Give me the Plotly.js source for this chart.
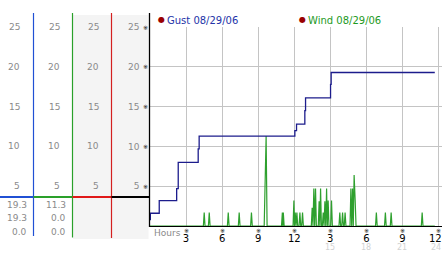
<!DOCTYPE html>
<html><head><meta charset="utf-8">
<script src="https://cdn.plot.ly/plotly-3.0.1.min.js"></script>
<style>html,body{margin:0;padding:0;background:#fff;}#chart{width:442px;height:253px;}</style>
</head><body><div id="chart"></div>
<script>
// ---- data ----
const gustHours = [0, 0.03, 0.77, 2.22, 2.35, 4.01, 4.09, 12.05, 12.19, 12.88, 12.94, 15.02, 15.07, 23.69];
const gustMph   = [0.8, 1.6, 3.2, 4.7, 8.0, 9.7, 11.3, 12.0, 12.8, 14.5, 16.1, 17.8, 19.3, 19.3];

const windHours = [0,
  4.44,4.51,4.58, 4.86,4.93,5.00, 6.44,6.51,6.58, 7.35,7.42,7.49, 8.37,8.44,8.51,
  9.50,9.58,9.66,9.74,
  10.94,11.01,11.05,11.09,11.16,
  11.90,11.97,12.02,12.08,12.15,12.22,12.29, 12.40,12.47,12.54, 12.62,12.69,12.76,
  13.42,13.49,13.56,13.63,13.70,13.77,13.84,
  14.00,14.07,14.13,14.19,14.26,
  14.34,14.41,14.48,14.55,14.62,14.69,14.75,14.82,14.89,
  15.03,15.10,15.17, 15.72,15.79,15.86, 15.95,16.02,16.09, 16.16,16.23,16.30,
  16.64,16.71,16.78,16.85,16.91,16.98,17.07,17.14,
  18.76,18.83,18.90, 19.51,19.58,19.65, 19.99,20.06,20.13, 22.57,22.64,22.71,
  23.69];
const windMph = [0,
  0,1.7,0, 0,1.7,0, 0,1.7,0, 0,1.7,0, 0,1.7,0,
  0,6.4,11.3,0,
  0,1.7,0,1.7,0,
  0,3.2,0,1.7,0,1.7,0, 0,1.7,0, 0,1.7,0,
  0,2.3,0,4.7,0,4.7,0,
  0,3.1,0,4.7,0,
  0,1.7,0,3.1,0,4.7,0,3.2,0,
  0,3.2,0, 0,1.7,0, 0,1.7,0, 0,1.7,0,
  0,4.7,0,4.7,0,6.4,3.1,0,
  0,1.7,0, 0,1.7,0, 0,1.7,0, 0,1.7,0,
  0];

const yTickVals = [5, 10, 15, 20, 25];
const yTickText = ['5', '10', '15', '20', '25'];
const xTickVals = [3, 6, 9, 12, 15, 18, 21, 24];
const xTickText = ['3', '6', '9', '12', '3', '6', '9', '12'];
const xTickText24 = ['', '', '', '', '15', '18', '21', '24'];
const gustStats = ['19.3', '19.3', '0.0'];
const windStats = ['11.3', '0.0', '0.0'];
const seriesLabels = ['Gust 08/29/06', 'Wind 08/29/06'];

// ---- layout helpers (pixel -> paper) ----
const W = 442, H = 253, TOP = 27, BOT = 226;
const px = p => p / W;
const py = p => (BOT - p) / (BOT - TOP);
const FONT = 'DejaVu Sans, Verdana, sans-serif';
const GREY = '#8a8a8a';

const traces = [
  {x: windHours, y: windMph, type: 'scatter', mode: 'lines',
   line: {color: '#2ea02e', width: 1.2}, hoverinfo: 'skip'},
  {x: gustHours, y: gustMph, type: 'scatter', mode: 'lines',
   line: {color: '#1c1c8c', width: 1.3, shape: 'hv'}, hoverinfo: 'skip'}
];

const shapes = [];
const vline = (x, y0, y1, color, w) => shapes.push({type: 'line', xref: 'paper', yref: 'paper',
  x0: px(x), x1: px(x), y0: py(y0), y1: py(y1), line: {color: color, width: w}});
const hline = (x0, x1, y, color, w) => shapes.push({type: 'line', xref: 'paper', yref: 'paper',
  x0: px(x0), x1: px(x1), y0: py(y), y1: py(y), line: {color: color, width: w}});
shapes.push({type: 'rect', xref: 'paper', yref: 'paper', layer: 'below',
  x0: px(73), x1: px(148.5), y0: py(239), y1: py(15), fillcolor: '#f4f4f4', line: {width: 0}});
vline(33.5, 13, 236, '#2050d4', 1.2);
vline(72.5, 13, 237.5, '#2aa02a', 1.2);
vline(111.5, 13, 238, '#d42020', 1.2);
vline(149.5, 13, 227, '#000000', 1.3);
hline(0, 33.5, 197, '#2050d4', 2.2);
hline(33.5, 72.5, 197, '#2aa02a', 2.2);
hline(72.5, 111.5, 197, '#e01818', 2.2);
hline(111.5, 149.5, 197, '#000000', 2.2);

const annotations = [];
const ann = o => annotations.push(Object.assign({showarrow: false, borderpad: 0}, o));
// scale columns 1..3
[20.5, 60.5, 99.5].forEach(edge => {
  yTickVals.forEach((v, i) => ann({xref: 'paper', yref: 'y', x: px(edge), y: v, xanchor: 'right',
    yanchor: 'middle', text: yTickText[i], font: {family: FONT, size: 9, color: GREY}}));
});
// tick marks on the left axis
yTickVals.forEach(v => ann({xref: 'paper', yref: 'y', x: px(148.8), y: v, xanchor: 'right',
  yanchor: 'middle', text: '※', font: {family: FONT, size: 6, color: '#000'}}));
// tick marks on the bottom axis
xTickVals.forEach(v => ann({xref: 'x', yref: 'paper', x: v, y: py(230.5), xanchor: 'center',
  yanchor: 'middle', text: '※', font: {family: FONT, size: 6, color: '#000'}}));
// last hour label of the first row, nudged left so it stays inside the picture
const lastI = xTickVals.length - 1;
ann({xref: 'x', yref: 'paper', x: xTickVals[lastI], y: py(238.5), xanchor: 'center', yanchor: 'middle',
  xshift: -3, text: xTickText[lastI], font: {family: FONT, size: 10, color: '#000'}});
// second row of hour labels
xTickVals.forEach((v, i) => { if (xTickText24[i]) ann({xref: 'x', yref: 'paper', x: v, y: py(247.5),
  xanchor: 'center', yanchor: 'middle', xshift: (i === lastI ? -3 : 0),
  text: xTickText24[i], font: {family: FONT, size: 8, color: '#d2d2d2'}}); });
ann({xref: 'paper', yref: 'paper', x: px(153), y: py(232.5), xanchor: 'left', yanchor: 'middle',
  text: 'Hours', font: {family: FONT, size: 9, color: GREY}});
// statistics under the scales
[205, 218, 232].forEach((y, i) => {
  ann({xref: 'paper', yref: 'paper', x: px(27.5), y: py(y), xanchor: 'right', yanchor: 'middle',
    text: gustStats[i], font: {family: FONT, size: 9, color: GREY}});
  ann({xref: 'paper', yref: 'paper', x: px(66.5), y: py(y), xanchor: 'right', yanchor: 'middle',
    text: windStats[i], font: {family: FONT, size: 9, color: GREY}});
});
// legend labels
[[161, 165.5, '#2434a8'], [302.5, 307, '#1e9a1e']].forEach((d, i) => {
  ann({xref: 'paper', yref: 'paper', x: px(d[0]), y: py(20), xanchor: 'center', yanchor: 'middle',
    text: '●', font: {family: FONT, size: 8, color: '#9a0000'}});
  ann({xref: 'paper', yref: 'paper', x: px(d[1]), y: py(20.3), xanchor: 'left', yanchor: 'middle',
    text: seriesLabels[i], font: {family: FONT, size: 10, color: d[2]}});
});

const xTickShown = xTickText.map((t, i) => i === lastI ? '' : t);

const layout = {
  width: W, height: H,
  margin: {l: 0, r: 0, t: TOP, b: H - BOT, pad: 0},
  paper_bgcolor: '#ffffff', plot_bgcolor: '#ffffff',
  font: {family: FONT, size: 9, color: GREY},
  showlegend: false,
  xaxis: {domain: [149.5 / W, 1], range: [-0.04, 24.29], tickmode: 'array',
    tickvals: xTickVals, ticktext: xTickShown, showgrid: true, gridcolor: '#c4c4c4', gridwidth: 1,
    zeroline: false, showline: true, linecolor: '#000', linewidth: 1, ticks: '',
    tickfont: {family: FONT, size: 10, color: '#000'}, ticklabelstandoff: 3,
    layer: 'below traces', fixedrange: true},
  yaxis: {range: [0, 25.02], tickmode: 'array', tickvals: yTickVals, ticktext: yTickText,
    showgrid: true, gridcolor: '#c4c4c4', gridwidth: 1, zeroline: false, showline: false, ticks: '',
    tickfont: {family: FONT, size: 9, color: GREY}, ticklabelstandoff: 9,
    layer: 'below traces', fixedrange: true},
  shapes: shapes,
  annotations: annotations
};

Plotly.newPlot('chart', traces, layout, {staticPlot: true, displayModeBar: false});
</script>
</body></html>
